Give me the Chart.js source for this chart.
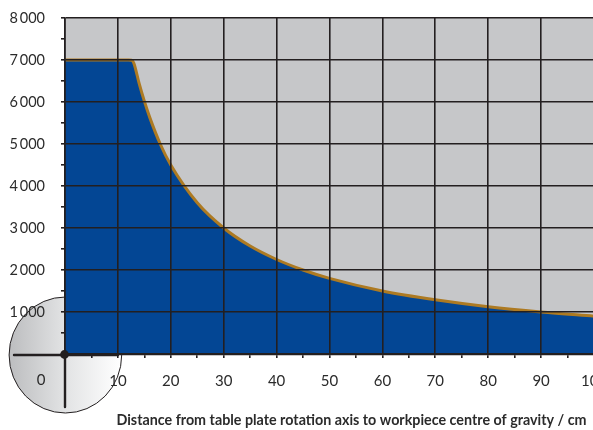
<!DOCTYPE html>
<html><head><meta charset="utf-8">
<style>html,body{margin:0;padding:0;background:#fff;overflow:hidden;width:593px;height:430px}canvas{display:block}</style>
<script src="https://cdn.jsdelivr.net/npm/chart.js@4"></script></head>
<body><canvas id="c" width="620" height="430" style="width:620px;height:430px"></canvas>
<script>
const distances = [0, 12, 12.6, 13, 14, 15, 16, 18, 20, 25, 30, 35, 40, 45, 50, 60, 70, 80, 90, 100];
const torque = [7000, 7000, 6995, 6930, 6450, 6020, 5640, 5000, 4500, 3600, 3000, 2570, 2250, 2000, 1800, 1500, 1290, 1125, 1000, 900];
const originLabel = '0';
const axisTitle = 'Distance from table plate rotation axis to workpiece centre of gravity / cm';
const INK = '#231f20';
const back = {
  id: 'back',
  beforeDraw(ch) {
    const g = ch.ctx, a = ch.chartArea;
    const cx = ch.scales.x.getPixelForValue(0), cy = ch.scales.y.getPixelForValue(0);
    g.save();
    const gr = g.createLinearGradient(cx - 56, 0, cx + 56, 0);
    gr.addColorStop(0, '#bcbdbf'); gr.addColorStop(0.5, '#e2e3e4'); gr.addColorStop(1, '#ffffff');
    g.beginPath(); g.ellipse(cx + 0.4, cy + 1, 56.3, 58, 0, 0, Math.PI * 2);
    g.fillStyle = gr; g.fill();
    g.lineWidth = 1; g.strokeStyle = INK; g.stroke();
    g.fillStyle = '#c6c7c9'; g.fillRect(a.left, a.top, a.width, a.height);
    g.restore();
  },
  afterDraw(ch) {
    const g = ch.ctx;
    const cx = ch.scales.x.getPixelForValue(0), cy = ch.scales.y.getPixelForValue(0);
    g.save();
    g.strokeStyle = INK; g.fillStyle = INK; g.lineCap = 'round';
    g.lineWidth = 2.4;
    g.beginPath(); g.moveTo(14, cy + 1); g.lineTo(ch.scales.x.getPixelForValue(10), cy + 1);
    g.moveTo(cx, cy); g.lineTo(cx, cy + 53); g.stroke();
    g.beginPath(); g.arc(cx - 0.5, cy + 0.5, 4.4, 0, Math.PI * 2); g.fill();
    g.textAlign = 'center'; g.textBaseline = 'middle';
    g.fillStyle = '#2b2b2b';
    g.font = '15px Lato';
    g.fillText(originLabel, 41, 380);
    g.font = 'bold 14.3px Lato';
    g.fillText(axisTitle, 351.5, 420);
    g.restore();
  }
};
new Chart(document.getElementById('c'), {
  type: 'line',
  data: { datasets: [{
    data: distances.map((x, i) => ({ x, y: torque[i] })),
    borderColor: '#ad7a22', borderWidth: 3, backgroundColor: '#034694',
    fill: 'origin', pointRadius: 0, cubicInterpolationMode: 'monotone'
  }] },
  plugins: [back],
  options: {
    responsive: false, animation: false, devicePixelRatio: 1,
    layout: { padding: { top: 18, right: 26, left: 0, bottom: 0 } },
    plugins: { legend: { display: false }, tooltip: { enabled: false } },
    scales: {
      x: {
        type: 'linear', min: 0, max: 100,
        afterFit(s) { s.height = 76; s.paddingLeft = 0; s.paddingRight = 0; },
        grid: {
          z: 1, lineWidth: 1.6, tickLength: 4, offset: false,
          color: c => c.tick && c.tick.value % 10 === 0 ? INK : 'rgba(0,0,0,0)',
          tickColor: INK, tickWidth: 1.6
        },
        border: { color: INK, width: 2.2, z: 2 },
        ticks: {
          stepSize: 5, autoSkip: false, maxRotation: 0, padding: 14, color: '#2b2b2b',
          font: { family: 'Lato', size: 15 },
          callback: v => v % 10 === 0 && v !== 0 ? String(v) : ''
        }
      },
      y: {
        min: 0, max: 8000,
        afterFit(s) { s.width = 65; s.paddingTop = 0; s.paddingBottom = 0; },
        grid: {
          z: 1, lineWidth: 1.6, tickLength: 4,
          color: c => c.tick && c.tick.value % 1000 === 0 ? INK : 'rgba(0,0,0,0)',
          tickColor: INK, tickWidth: 1.6
        },
        border: { color: INK, width: 1.6, z: 2 },
        ticks: {
          stepSize: 500, autoSkip: false, padding: 16, color: '#2b2b2b',
          font: { family: 'Lato', size: 14.5 },
          callback: v => v % 1000 === 0 ? (v === 0 ? '' : String(v / 1000) + '\u2009000') : ''
        }
      }
    }
  }
});
</script></body></html>
